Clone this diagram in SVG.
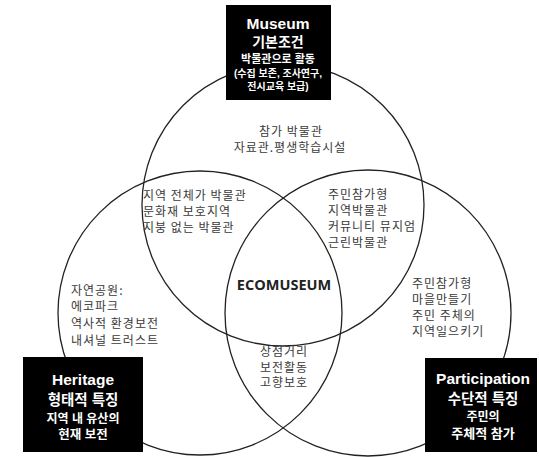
<svg xmlns="http://www.w3.org/2000/svg" width="539" height="457" viewBox="0 0 539 457">
<style>
.c{fill:none;stroke:#222;stroke-width:1.3}
.box{fill:#000}
.t{font-family:"Noto Sans CJK KR","Liberation Sans",sans-serif;fill:#3a3a3a;font-size:12px;letter-spacing:1px}
.w{font-family:"Liberation Sans","Noto Sans CJK KR",sans-serif;fill:#fff;font-weight:bold;text-anchor:middle}
.m{text-anchor:middle}
</style>
<rect width="539" height="457" fill="#fff"/>
<g id="circles">
<circle class="c" cx="283" cy="205" r="141"/>
<circle class="c" cx="200" cy="313" r="142"/>
<circle class="c" cx="368" cy="313" r="143"/>
</g>
<g id="museum">
<rect class="box" x="226" y="5" width="105" height="95"/>
<text class="w" x="278" y="29" font-size="15.5">Museum</text>
<text class="w" x="278" y="47" font-size="14">기본조건</text>
<text class="w" x="278" y="63" font-size="11">박물관으로 활동</text>
<text class="w" x="278" y="77" font-size="10">(수집 보존, 조사연구,</text>
<text class="w" x="278" y="90" font-size="10">전시교육 보급)</text>
</g>
<g id="heritage">
<rect class="box" x="23" y="357" width="120" height="95"/>
<text class="w" x="83" y="385" font-size="15.5">Heritage</text>
<text class="w" x="83" y="405" font-size="14.5">형태적 특징</text>
<text class="w" x="83" y="423" font-size="12">지역 내 유산의</text>
<text class="w" x="83" y="439" font-size="12.5">현재 보전</text>
</g>
<g id="participation">
<rect class="box" x="425" y="358" width="112" height="94"/>
<text class="w" x="483" y="384" font-size="15.5">Participation</text>
<text class="w" x="483" y="404" font-size="14.5">수단적 특징</text>
<text class="w" x="483" y="421" font-size="12">주민의</text>
<text class="w" x="483" y="438" font-size="13">주체적 참가</text>
</g>
<g id="museum-only">
<text class="t m" x="291" y="136">참가 박물관</text>
<text class="t m" x="290" y="152" letter-spacing="0">자료관.평생학습시설</text>
</g>
<g id="museum-heritage">
<text class="t" x="143" y="200">지역 전체가 박물관</text>
<text class="t" x="143" y="216">문화재 보호지역</text>
<text class="t" x="143" y="232">지붕 없는 박물관</text>
</g>
<g id="museum-participation">
<text class="t" x="328" y="199">주민참가형</text>
<text class="t" x="328" y="215">지역박물관</text>
<text class="t" x="328" y="231">커뮤니티 뮤지엄</text>
<text class="t" x="328" y="247">근린박물관</text>
</g>
<g id="heritage-only">
<text class="t" x="71" y="295" font-size="13" letter-spacing="1.5">자연공원:</text>
<text class="t" x="71" y="311" font-size="13" letter-spacing="1.5">에코파크</text>
<text class="t" x="71" y="328" font-size="13" letter-spacing="1.5">역사적 환경보전</text>
<text class="t" x="71" y="345" font-size="13" letter-spacing="1.5">내셔널 트러스트</text>
</g>
<g id="participation-only">
<text class="t" x="412" y="288" letter-spacing="1.6">주민참가형</text>
<text class="t" x="412" y="304" letter-spacing="1.6">마을만들기</text>
<text class="t" x="412" y="320" letter-spacing="1.6">주민 주체의</text>
<text class="t" x="412" y="336" letter-spacing="1.6">지역일으키기</text>
</g>
<g id="heritage-participation">
<text class="t m" x="284" y="356" font-size="11.5" letter-spacing="0.8">상점거리</text>
<text class="t m" x="284" y="371.5" font-size="11.5" letter-spacing="0.8">보전활동</text>
<text class="t m" x="284" y="387" font-size="11.5" letter-spacing="0.8">고향보호</text>
</g>
<g id="ecomuseum">
<text x="284" y="290" text-anchor="middle" font-family="'Open Sans','Liberation Sans',sans-serif" font-weight="bold" font-size="14.5" fill="#222">ECOMUSEUM</text>
</g>
</svg>
